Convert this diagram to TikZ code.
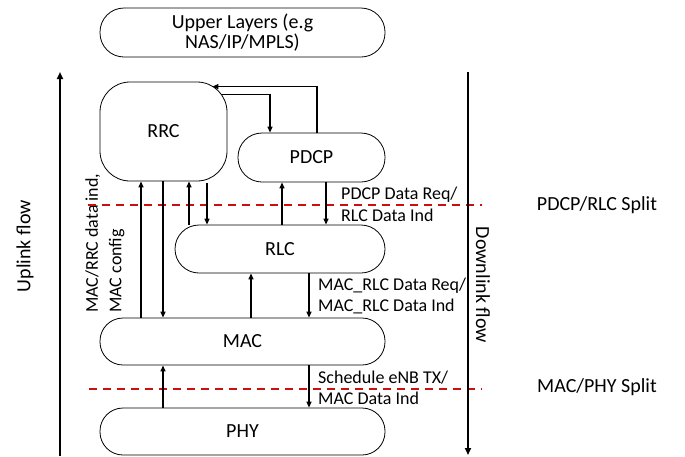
\documentclass[tikz,border=0pt]{standalone}
\usepackage{fontspec}
\setmainfont{Carlito}
\usetikzlibrary{arrows.meta}
\definecolor{splitred}{RGB}{200,16,16}
\begin{document}
\begin{tikzpicture}[x=1pt,y=-1pt,
  box/.style={draw, line width=0.8pt, inner sep=0pt, align=center, font=\fontsize{20}{20}\selectfont},
  lbl/.style={inner sep=0pt, align=left, anchor=west, font=\fontsize{18}{21.5}\selectfont},
  arr/.style={line width=1.3pt, -{Triangle[length=6pt,width=5pt]}},
  flow/.style={line width=1.8pt, -{Triangle[length=7pt,width=6pt]}},
  split/.style={draw=splitred, line width=1.8pt, dash pattern=on 8pt off 6pt},
  side/.style={inner sep=0pt, font=\fontsize{20}{20}\selectfont}]
\useasboundingbox (0,0) rectangle (685,456);

% boxes
\node[box, minimum width=285pt, minimum height=49pt, rounded corners=24pt] (upper) at (242.5,32.5) {Upper Layers (e.g\\NAS/IP/MPLS)};
\node[box, minimum width=127pt, minimum height=99pt, rounded corners=30pt] (rrc) at (163.5,131.5) {RRC};
\node[box, minimum width=147pt, minimum height=49pt, rounded corners=24pt] (pdcp) at (311.5,157.5) {PDCP};
\node[box, minimum width=210pt, minimum height=48pt, rounded corners=24pt] (rlc) at (280,249) {RLC};
\node[box, minimum width=285pt, minimum height=47pt, rounded corners=23pt] (mac) at (242.5,341.5) {MAC};
\node[box, minimum width=285pt, minimum height=47pt, rounded corners=23pt] (phy) at (242.5,431.5) {PHY};

% side labels
\node[side, rotate=90] (uplbl) at (25,246) {Uplink flow};
\node[side, rotate=-90] (dnlbl) at (483,285) {Downlink flow};
\node[side] (s1) at (597,205) {PDCP/RLC Split};
\node[side] (s2) at (597,387) {MAC/PHY Split};
\node[inner sep=0pt, rotate=90, anchor=west, align=left, font=\fontsize{18}{23.5}\selectfont] (macrrc) at (105,313) {MAC/RRC data ind,\\MAC config};

% interface labels
\node[lbl] (l1) at (341,204.5) {PDCP Data Req/\\RLC Data Ind};
\node[lbl] (l2) at (318,296) {MAC\_RLC Data Req/\\MAC\_RLC Data Ind};
\node[lbl] (l3) at (318,388) {Schedule eNB TX/\\MAC Data Ind};

% split lines
\coordinate (d1a) at (88,205);
\coordinate (d1b) at (482,205);
\coordinate (d2a) at (89,389);
\coordinate (d2b) at (482,389);
\draw[split] (d1a) -- (d1b);
\draw[split] (d2a) -- (d2b);

% flow arrows
\coordinate (upS) at (60,456);
\coordinate (upE) at (60,72);
\coordinate (dnS) at (468,72);
\coordinate (dnE) at (468,455);
\draw[flow] (upS) -- (upE);
\draw[flow] (dnS) -- (dnE);

% column coordinates
\coordinate (c141) at (141,0);
\coordinate (c163) at (163,0);
\coordinate (c189) at (189,0);
\coordinate (c207) at (207,0);
\coordinate (c251) at (251,0);
\coordinate (c270) at (270,0);
\coordinate (c282) at (282,0);
\coordinate (c309) at (309,0);
\coordinate (c317) at (317,0);
\coordinate (c326) at (326,0);

% RRC <-> PDCP
\draw[arr] (pdcp.north -| c317) |- ([shift={(-15,5)}]rrc.north east);
\draw[arr] ([shift={(-6,13)}]rrc.north east) -| (pdcp.north -| c270);

% RRC <-> MAC
\draw[arr] (mac.north -| c141) -- (rrc.south -| c141);
\draw[arr] (rrc.south -| c163) -- (mac.north -| c163);
% RRC <-> RLC
\draw[arr] (rlc.north -| c189) -- (rrc.south -| c189);
\draw[arr] ([yshift=-2pt]rrc.south -| c207) -- (rlc.north -| c207);
% PDCP <-> RLC
\draw[arr] (rlc.north -| c282) -- (pdcp.south -| c282);
\draw[arr] (pdcp.south -| c326) -- (rlc.north -| c326);
% RLC <-> MAC
\draw[arr] (mac.north -| c251) -- (rlc.south -| c251);
\draw[arr] (rlc.south -| c309) -- (mac.north -| c309);
% MAC <-> PHY
\draw[arr] (phy.north -| c163) -- (mac.south -| c163);
\draw[arr] (mac.south -| c309) -- (phy.north -| c309);
\end{tikzpicture}
\end{document}
